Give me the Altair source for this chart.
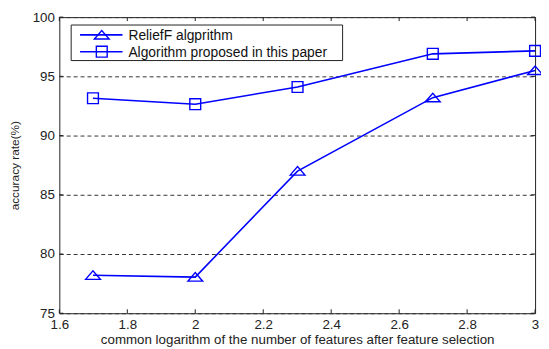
import altair as alt
import pandas as pd

# ---- data ----
x_vals = [1.699, 2.0, 2.301, 2.699, 3.0]
relieff = [78.2, 78.05, 87.0, 93.2, 95.5]
proposed = [93.15, 92.65, 94.1, 96.9, 97.15]
series_names = ["ReliefF algprithm", "Algorithm proposed in this paper"]
x_ticks = [1.6, 1.8, 2.0, 2.2, 2.4, 2.6, 2.8, 3.0]
y_ticks = [75, 80, 85, 90, 95, 100]
x_title = "common logarithm of the number of features after feature selection"
y_title = "accuracy rate(%)"

W, H = 482, 300
BLUE = "#0000ff"
FONT = "Liberation Sans"
TRI = "M-1,0.55L0,-0.6L1,0.55Z"

df = pd.DataFrame({
    "x": x_vals * 2,
    "y": relieff + proposed,
    "series": [series_names[0]] * len(x_vals) + [series_names[1]] * len(x_vals),
})
df_r = df[df.series == series_names[0]]
df_p = df[df.series == series_names[1]]
xt = pd.DataFrame({"t": x_ticks})
yt = pd.DataFrame({"t": y_ticks})

xscale = alt.Scale(domain=[1.6, 3.0], nice=False, zero=False)
yscale = alt.Scale(domain=[75, 100], nice=False, zero=False)

xaxis = alt.Axis(values=x_ticks, format=".2~f", grid=False, ticks=False, tickSize=0,
                 domain=False, labelPadding=4, title=x_title, titlePadding=2,
                 labelFontSize=13.5, titleFontSize=13.5, labelFont=FONT, titleFont=FONT,
                 labelColor="#222", titleColor="#222", titleFontWeight="normal",
                 labelFlush=False, labelOverlap=False)
yaxis = alt.Axis(values=y_ticks, grid=True, gridDash=[4, 3], gridColor="#333",
                 gridWidth=1, ticks=False, tickSize=0, domain=False, labelPadding=5,
                 title=y_title, titlePadding=11, labelFontSize=13.5, titleFontSize=12,
                 labelFont=FONT, titleFont=FONT, labelColor="#222", titleColor="#222",
                 titleFontWeight="normal", labelFlush=False)

lines = alt.Chart(df).mark_line(color=BLUE, strokeWidth=1.6).encode(
    x=alt.X("x:Q", scale=xscale, axis=xaxis),
    y=alt.Y("y:Q", scale=yscale, axis=yaxis),
    detail="series:N",
)
tri_pts = alt.Chart(df_r).mark_point(shape=TRI, size=225, filled=False, color=BLUE,
                                     strokeWidth=1.4, opacity=1).encode(
    x=alt.X("x:Q", scale=xscale), y=alt.Y("y:Q", scale=yscale))
sq_pts = alt.Chart(df_p).mark_point(shape="square", size=121, filled=False, color=BLUE,
                                    strokeWidth=1.4, opacity=1).encode(
    x=alt.X("x:Q", scale=xscale), y=alt.Y("y:Q", scale=yscale))

# inward ticks (MATLAB style)
tick_style = dict(color="#222", strokeWidth=1)
xt_bot = alt.Chart(xt).mark_rule(**tick_style).encode(
    x=alt.X("t:Q", scale=xscale), y=alt.value(H - 4), y2=alt.value(H))
xt_top = alt.Chart(xt).mark_rule(**tick_style).encode(
    x=alt.X("t:Q", scale=xscale), y=alt.value(0), y2=alt.value(4))
yt_left = alt.Chart(yt).mark_rule(**tick_style).encode(
    y=alt.Y("t:Q", scale=yscale), x=alt.value(0), x2=alt.value(4))
yt_right = alt.Chart(yt).mark_rule(**tick_style).encode(
    y=alt.Y("t:Q", scale=yscale), x=alt.value(W - 4), x2=alt.value(W))

# legend box
one = pd.DataFrame({"k": [0]})
leg_box = alt.Chart(one).mark_rect(fill="white", stroke="#222", strokeWidth=1).encode(
    x=alt.value(12), x2=alt.value(287), y=alt.value(8), y2=alt.value(44))
leg_layers = []
for i, (yy, shape, size) in enumerate([(18, TRI, 225), (35, "square", 121)]):
    leg_layers.append(alt.Chart(one).mark_rule(color=BLUE, strokeWidth=1.6).encode(
        x=alt.value(21), x2=alt.value(64), y=alt.value(yy)))
    leg_layers.append(alt.Chart(one).mark_point(shape=shape, size=size, filled=False,
                                                color=BLUE, strokeWidth=1.4, opacity=1).encode(
        x=alt.value(43), y=alt.value(yy)))
    leg_layers.append(alt.Chart(one).mark_text(align="left", baseline="middle", font=FONT,
                                               fontSize=14, color="#111").encode(
        x=alt.value(70), y=alt.value(yy + 1), text=alt.value(series_names[i])))

chart = alt.layer(lines, xt_bot, xt_top, yt_left, yt_right, tri_pts, sq_pts,
                  leg_box, *leg_layers).properties(
    width=W, height=H, autosize="none",
    padding={"left": 52, "top": 7, "right": 6, "bottom": 34},
    background="white",
).configure_view(stroke="#222", strokeWidth=1)

chart.save("out.html", embed_options={"renderer": "svg", "actions": False})
